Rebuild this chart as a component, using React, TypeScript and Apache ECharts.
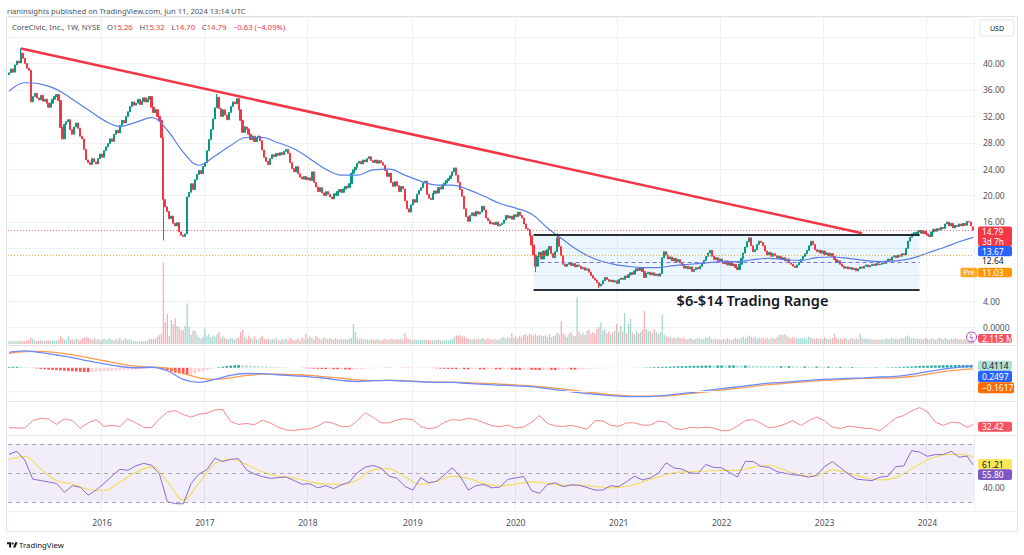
import React, { useEffect, useRef } from "react";
import * as echarts from "echarts";

// ---------- DATA ----------
const START_DATE = "2015-02-09"; // first weekly bar
const FIRST_OPEN = 38.3;
const LAST_OPEN = 15.26;

// weekly closes
const closes = [
  38.6, 39.2, 38.7, 39.8, 40.4, 40.1, 41.6, 40.8, 40.0, 39.3,
  39.0, 34.2, 35.0, 35.5, 34.8, 34.5, 35.2, 34.3, 34.6, 34.0,
  33.4, 34.0, 34.6, 35.0, 35.3, 34.4, 30.3, 28.6, 30.8, 31.2,
  31.5, 30.0, 29.3, 30.4, 31.0, 30.2, 29.0, 28.6, 27.0, 25.4,
  25.0, 24.7, 25.6, 25.1, 24.8, 25.6, 26.3, 25.8, 26.8, 27.4,
  27.9, 28.6, 28.2, 29.3, 29.9, 29.5, 30.6, 31.4, 31.0, 32.0,
  32.7, 33.5, 34.2, 33.7, 34.0, 34.6, 33.8, 34.3, 34.8, 34.2,
  34.6, 35.0, 33.4, 32.6, 33.0, 32.0, 31.4, 28.8, 19.4, 18.3,
  17.6, 16.5, 16.9, 15.8, 15.4, 15.9, 14.5, 14.0, 13.8, 14.2,
  19.8, 20.5, 21.8, 20.9, 22.4, 23.2, 23.8, 23.3, 24.4, 25.0,
  26.8, 28.5, 30.0, 31.6, 33.3, 34.9, 33.2, 32.0, 33.0, 32.2,
  31.5, 32.6, 33.5, 34.2, 33.9, 34.7, 33.0, 31.4, 29.6, 30.4,
  30.1, 29.3, 28.5, 29.0, 28.2, 28.8, 29.0, 28.3, 26.9, 25.8,
  25.2, 24.7, 25.6, 26.2, 25.9, 26.4, 26.1, 26.5, 26.2, 26.7,
  27.0, 26.4, 25.0, 24.1, 23.6, 24.4, 23.3, 22.8, 22.5, 22.9,
  22.4, 22.7, 22.3, 23.6, 22.0, 21.3, 20.6, 21.2, 20.4, 20.0,
  20.6, 20.2, 19.8, 19.5, 20.3, 20.0, 20.6, 20.9, 20.5, 21.0,
  21.4, 21.2, 21.8, 23.4, 23.9, 24.3, 24.9, 25.2, 24.8, 25.4,
  25.1, 25.6, 25.9, 25.3, 25.0, 25.4, 24.9, 25.3, 25.0, 24.6,
  23.8, 22.9, 23.4, 22.0, 21.4, 22.1, 21.5, 20.6, 21.4, 21.0,
  19.2, 18.0, 17.5, 18.6, 19.4, 19.0, 20.2, 20.8, 21.2, 21.9,
  22.2, 20.2, 19.6, 19.4, 20.3, 20.7, 20.4, 21.2, 21.0, 21.6,
  21.9, 22.3, 22.6, 23.0, 23.6, 24.2, 23.1, 22.0, 20.9, 19.9,
  18.0, 16.8, 16.1, 17.0, 17.4, 16.9, 17.6, 17.2, 17.5, 18.4,
  17.8, 16.6, 16.2, 15.7, 15.9, 15.6, 16.0, 15.4, 15.6, 15.8,
  16.3, 17.0, 16.6, 16.9, 16.4, 17.1, 16.8, 17.5, 17.0, 16.6,
  15.7, 15.0, 14.8, 13.9, 12.5, 11.0, 9.3, 10.8, 11.4, 10.4,
  11.6, 10.9, 11.8, 12.3, 11.2, 10.6, 11.5, 13.6, 12.3, 10.9,
  9.6, 9.3, 9.6, 9.8, 9.4, 9.7, 9.2, 9.5, 9.3, 8.9,
  9.1, 8.7, 8.9, 8.4, 7.9, 7.5, 7.2, 6.8, 6.3, 6.6,
  7.1, 7.6, 7.3, 7.0, 7.2, 6.9, 7.1, 6.7, 7.3, 7.5,
  7.3, 7.8, 7.6, 8.0, 8.3, 8.1, 8.6, 8.9, 8.7, 9.1,
  8.5, 7.6, 8.2, 8.4, 8.0, 8.3, 7.9, 8.1, 7.8, 8.2,
  10.6, 11.5, 11.0, 10.4, 10.7, 10.1, 10.5, 10.0, 10.3, 9.8,
  9.4, 9.0, 9.3, 8.9, 9.2, 8.5, 8.8, 9.1, 8.9, 9.3,
  9.7, 10.2, 10.8, 11.3, 11.7, 10.8, 10.3, 10.6, 10.1, 10.4,
  10.0, 9.7, 10.1, 9.5, 9.8, 9.4, 9.6, 9.1, 8.8, 9.6,
  10.5, 11.3, 12.2, 13.0, 13.6, 12.4, 11.5, 11.8, 12.6, 13.1,
  12.9, 12.4, 11.6, 11.0, 11.4, 10.8, 11.2, 10.9, 10.5, 10.8,
  10.3, 10.6, 10.1, 10.4, 9.8, 9.6, 9.3, 9.1, 9.5, 9.9,
  10.3, 10.8, 11.2, 11.7, 12.4, 13.1, 12.6, 11.8, 11.5, 11.7,
  11.3, 11.6, 11.1, 11.3, 10.9, 11.2, 10.8, 10.3, 9.9, 10.1,
  9.6, 9.3, 9.0, 9.2, 8.9, 9.1, 8.8, 9.0, 8.6, 8.9,
  9.2, 9.0, 9.3, 9.5, 9.2, 9.4, 9.6, 9.4, 9.7, 9.5,
  9.6, 9.8, 9.7, 10.1, 10.4, 10.2, 10.7, 10.9, 10.6, 11.0,
  10.8, 11.2, 11.0, 12.0, 13.1, 13.7, 14.2, 14.4, 14.1, 14.5,
  14.7, 14.3, 14.6, 14.2, 14.0, 13.8, 14.5, 14.9, 14.6, 15.0,
  14.8, 15.2, 15.0, 15.7, 16.0, 15.4, 15.8, 15.1, 15.5, 15.3,
  15.7, 15.4, 15.8, 15.5, 16.1, 16.0, 15.42, 14.79,
];

// notable wicks: [bar, value]
const wickHighs = [[6, 42.3], [105, 35.4], [277, 14.3], [487, 15.32]];
const wickLows = [[78, 13.2], [266, 8.4], [298, 6.0], [487, 14.7]];

// weekly volume (millions)
const volumes = [
  2.4, 2.2, 2.6, 2.0, 2.3, 2.8, 2.5, 2.1, 2.4, 2.9,
  3.1, 5.2, 4.6, 3.0, 2.6, 2.9, 3.3, 2.5, 2.7, 3.0,
  2.8, 2.5, 3.2, 2.7, 3.0, 3.4, 6.5, 4.8, 3.6, 3.1,
  6.4, 3.9, 4.0, 3.3, 4.5, 3.7, 3.2, 4.8, 5.6, 5.9,
  5.2, 4.4, 3.6, 4.9, 3.4, 4.2, 3.1, 3.8, 4.5, 3.3,
  3.9, 4.6, 3.5, 3.0, 4.1, 3.6, 5.0, 3.2, 3.7, 4.3,
  3.5, 4.0, 3.2, 2.6, 2.3, 2.5, 2.1, 2.4, 2.2, 2.6,
  2.9, 4.1, 4.3, 3.9, 4.6, 6.2, 7.4, 8.5, 68.0, 18.5,
  25.0, 6.5, 20.0, 16.5, 21.5, 15.0, 14.0, 11.5, 11.8, 15.0,
  34.0, 14.0, 7.5, 10.8, 11.0, 7.6, 5.8, 4.3, 6.0, 12.5,
  6.5, 8.2, 5.5, 7.0, 6.1, 8.0, 10.0, 5.2, 6.4, 4.8,
  4.2, 3.8, 5.0, 4.5, 3.6, 4.9, 5.2, 10.0, 11.5, 5.8,
  4.5, 7.2, 5.0, 3.8, 6.4, 4.1, 3.6, 5.5, 7.0, 4.2,
  3.5, 4.8, 3.2, 4.4, 3.8, 5.0, 3.3, 2.9, 4.1, 3.6,
  4.6, 3.4, 5.2, 4.0, 3.1, 3.7, 4.3, 3.0, 5.5, 4.1,
  8.3, 4.5, 6.2, 5.0, 4.0, 6.6, 5.2, 4.3, 3.8, 5.7,
  4.6, 3.9, 5.1, 4.2, 3.6, 4.8, 4.0, 3.5, 4.4, 3.7,
  4.1, 3.6, 4.5, 5.0, 16.5, 10.0, 4.8, 4.0, 4.6, 3.8,
  3.4, 3.9, 3.2, 4.2, 3.7, 3.1, 4.0, 3.5, 2.9, 3.8,
  4.1, 3.6, 3.3, 4.4, 3.9, 3.5, 4.2, 3.7, 4.6, 3.8,
  9.2, 5.1, 4.3, 3.6, 3.2, 3.9, 3.4, 3.0, 3.7, 3.3,
  3.8, 3.2, 3.5, 3.0, 2.8, 3.4, 3.1, 3.6, 2.9, 3.3,
  3.0, 3.5, 3.2, 3.8, 4.0, 5.8, 7.2, 6.8, 7.5, 6.0,
  6.5, 5.1, 4.5, 4.0, 3.6, 4.3, 3.8, 4.6, 3.9, 5.0,
  4.1, 3.5, 4.8, 3.9, 3.4, 4.2, 3.7, 3.3, 4.0, 5.2,
  5.8, 4.4, 6.0, 4.8, 9.2, 5.0, 6.3, 4.5, 7.0, 5.5,
  7.5, 8.2, 6.5, 9.0, 8.0, 7.2, 8.5, 6.8, 7.6, 6.2,
  6.8, 7.4, 6.0, 8.6, 5.5, 6.3, 7.0, 9.5, 8.0, 19.0,
  9.0, 7.2, 6.0, 8.5, 10.0, 7.0, 6.4, 39.0, 10.5, 8.0,
  9.5, 7.8, 11.0, 12.0, 8.5, 10.0, 9.0, 12.5, 14.0, 18.0,
  11.0, 12.5, 9.0, 10.5, 8.0, 9.5, 11.0, 16.7, 10.0, 15.0,
  10.5, 26.0, 9.0, 16.7, 21.0, 9.5, 8.0, 11.0, 9.0, 10.0,
  12.0, 27.5, 12.5, 10.5, 11.0, 9.0, 12.0, 10.0, 8.5, 9.5,
  24.0, 8.0, 6.5, 5.5, 6.0, 4.8, 5.2, 4.5, 5.8, 5.0,
  4.6, 5.5, 4.2, 3.8, 5.0, 4.4, 3.6, 4.1, 5.3, 4.0,
  4.5, 3.9, 5.6, 4.8, 6.5, 4.2, 3.7, 4.6, 3.5, 4.0,
  3.6, 4.3, 3.2, 4.9, 3.8, 3.3, 4.1, 5.2, 4.4, 3.9,
  5.0, 6.2, 4.6, 5.5, 7.0, 5.8, 4.9, 6.0, 4.4, 5.2,
  4.6, 5.0, 4.2, 5.4, 4.0, 4.7, 5.3, 4.5, 6.0, 7.5,
  8.0, 7.2, 8.3, 6.6, 5.5, 4.8, 5.8, 4.6, 5.2, 4.4,
  5.0, 4.5, 5.6, 4.2, 6.0, 5.3, 4.7, 4.0, 4.9, 4.3,
  4.8, 4.1, 5.5, 4.4, 3.9, 4.6, 5.2, 8.3, 5.0, 4.2,
  4.6, 3.8, 5.0, 4.3, 3.6, 4.4, 5.1, 3.9, 4.7, 4.0,
  8.3, 5.0, 4.1, 4.6, 3.7, 4.3, 3.5, 4.0, 3.4, 3.8,
  3.6, 4.2, 3.3, 4.8, 3.9, 4.4, 5.2, 3.8, 4.5, 4.1,
  4.0, 5.3, 4.6, 6.2, 7.0, 5.4, 4.5, 5.0, 4.2, 4.8,
  3.9, 4.4, 3.6, 5.0, 4.2, 3.7, 4.6, 4.0, 3.5, 4.3,
  5.2, 4.4, 3.8, 4.9, 4.1, 3.6, 4.5, 3.9, 4.7, 4.2,
  3.8, 4.5, 3.6, 4.1, 3.4, 4.0, 3.7, 2.115,
];

// moving average on price, one reading every 8 weeks
const MA_STEP = 8;
const maValues = [
  35.8, 37.1, 36.9, 36.1, 34.6, 33.0, 31.4, 30.5, 31.1, 31.8,
  29.9, 26.6, 24.6, 26.0, 27.6, 28.8, 28.8, 28.0, 27.1, 25.6,
  24.0, 23.1, 23.1, 23.9, 24.0, 23.1, 22.2, 21.6, 21.6, 20.9,
  19.9, 18.8, 18.1, 17.2, 15.1, 13.3, 11.6, 10.4, 9.7, 9.3,
  9.1, 9.1, 9.4, 9.6, 9.8, 10.0, 10.0, 10.3, 10.5, 10.3,
  10.2, 10.6, 10.7, 10.5, 10.2, 10.0, 10.1, 10.5, 11.3, 12.1,
  13.0, 13.67,
];

// MACD pane, one reading every 8 weeks
const MACD_STEP = 8;
const macdLine = [
  2.18, 2.4, 2.15, 1.82, 1.45, 0.97, 0.55, 0.18, 0.0, 0.07,
  -0.43, -1.66, -2.09, -1.65, -1.1, -0.82, -0.85, -1.0, -1.15, -1.3,
  -1.5, -1.8, -1.97, -1.85, -1.8, -1.9, -2.0, -2.09, -2.1, -2.23,
  -2.38, -2.47, -2.58, -2.7, -2.98, -3.25, -3.55, -3.78, -3.98, -4.1,
  -4.13, -4.02, -3.8, -3.55, -3.25, -2.98, -2.72, -2.45, -2.2, -2.05,
  -1.88, -1.72, -1.61, -1.52, -1.43, -1.32, -1.22, -0.95, -0.55, -0.2,
  0.1, 0.2497,
];
const signalLine = [
  2.05, 2.3, 2.35, 2.15, 1.85, 1.45, 1.0, 0.55, 0.22, 0.07,
  -0.05, -0.8, -1.43, -1.66, -1.45, -1.1, -0.92, -0.9, -1.0, -1.1,
  -1.3, -1.5, -1.75, -1.85, -1.8, -1.85, -1.98, -2.04, -2.05, -2.14,
  -2.23, -2.33, -2.45, -2.6, -2.82, -3.05, -3.32, -3.6, -3.85, -4.0,
  -4.05, -4.05, -3.92, -3.7, -3.45, -3.18, -2.92, -2.65, -2.42, -2.22,
  -2.05, -1.88, -1.76, -1.63, -1.52, -1.47, -1.43, -1.25, -0.9, -0.55,
  -0.3, -0.1617,
];
// histogram, one reading every 2 weeks
const HIST_STEP = 2;
const histValues = [
  0.1, 0.14, 0.16, 0.13, 0.09, 0.04, -0.05,
  -0.1, -0.16, -0.22, -0.27, -0.31, -0.35, -0.38, -0.42, -0.46, -0.5, -0.53, -0.57, -0.6, -0.63, -0.6, -0.55, -0.52,
  -0.48, -0.45, -0.42, -0.4, -0.37, -0.33, -0.3, -0.27, -0.24, -0.2, -0.17, -0.13, -0.1, -0.07, -0.05,
  -0.15, -0.35, -0.55, -0.7, -0.82, -0.92, -0.98, -0.9,
  -0.78, -0.62, -0.48, -0.33, -0.18, -0.05,
  0.08, 0.16, 0.24, 0.3, 0.35, 0.39, 0.37, 0.33,
  0.3, 0.27, 0.24, 0.2, 0.17, 0.14, 0.11, 0.09, 0.07, 0.05, 0.03, 0.02, 0.01,
  -0.03, -0.06, -0.09, -0.12, -0.15, -0.17, -0.19, -0.18, -0.2, -0.22, -0.21, -0.24, -0.26, -0.25, -0.22, -0.18, -0.14, -0.1, -0.06, -0.03, 0.01, 0.03,
  0.04, 0.03, 0.01, -0.02, -0.04, -0.05, -0.03, -0.01, 0.02, 0.01, -0.02, -0.05,
  -0.08, -0.12, -0.15, -0.17, -0.19, -0.21, -0.2, -0.22, -0.24, -0.23, -0.21, -0.22, -0.25, -0.24, -0.2, -0.21, -0.23, -0.22,
  -0.2, -0.24, -0.28, -0.3, -0.27, -0.25, -0.28, -0.31, -0.33, -0.3, -0.27, -0.29, -0.32, -0.3, -0.26, -0.22, -0.24, -0.27, -0.23, -0.19, -0.16, -0.14,
  -0.12, -0.1, -0.09, -0.07, -0.06, -0.05, -0.04, -0.03, -0.02, -0.01, 0.01, 0.02, 0.03,
  0.05, 0.07, 0.09, 0.11, 0.13, 0.15, 0.17, 0.18, 0.2, 0.22, 0.23, 0.25, 0.26, 0.28, 0.29, 0.3, 0.31, 0.3,
  0.31, 0.32, 0.3, 0.31, 0.33, 0.32, 0.3, 0.31, 0.29, 0.28, 0.27, 0.26, 0.25, 0.24, 0.23, 0.22,
  0.22, 0.21, 0.22, 0.2, 0.19, 0.18, 0.19, 0.17, 0.16, 0.17, 0.15, 0.14, 0.15, 0.13, 0.12, 0.13, 0.11, 0.1, 0.11, 0.09,
  0.08, 0.07, 0.06, 0.05, 0.06, 0.05, 0.04, 0.05, 0.06, 0.08, 0.1, 0.13, 0.16, 0.19,
  0.22, 0.25, 0.27, 0.29, 0.31, 0.33, 0.34, 0.36, 0.37, 0.38, 0.39, 0.4, 0.41, 0.41, 0.4114,
];

// third pane (red oscillator), one reading every 4 weeks
const OSC_STEP = 4;
const oscValues = [
  23, 22, 22, 45, 52, 50, 33, 50, 45, 21,
  38, 48, 27, 30, 26, 50, 38, 24, 23, 50,
  72, 76, 64, 56, 65, 68, 78, 80, 42, 33,
  36, 32, 46, 38, 24, 16, 14, 18, 19, 28,
  42, 36, 26, 26, 45, 70, 55, 38, 38, 47,
  51, 48, 27, 19, 24, 40, 48, 46, 52, 48,
  38, 29, 26, 31, 22, 25, 40, 61, 36, 28,
  27, 30, 25, 18, 45, 44, 30, 27, 38, 38,
  31, 31, 44, 40, 21, 17, 24, 22, 24, 22,
  13, 14, 28, 45, 48, 36, 22, 26, 34, 45,
  30, 45, 56, 44, 25, 20, 28, 25, 21, 20,
  13, 33, 53, 61, 75, 86, 72, 40, 30, 40,
  38, 24, 32.42,
];

// RSI, one reading every 4 weeks; its moving average every 8 weeks
const RSI_STEP = 4;
const rsiValues = [
  63, 65, 59, 46, 45, 44, 43, 37, 41.5, 40.4,
  35, 38.5, 43, 48, 52.7, 52, 55, 56.8, 55.5, 49.5,
  30.5, 29.2, 29, 43, 49.5, 52.5, 60.3, 58, 59.5, 60,
  52.3, 49.5, 47.7, 46.5, 47, 47.5, 45, 42.5, 42.8, 40,
  41.5, 39.5, 42, 44, 50.4, 54.2, 55.3, 53.5, 48, 46.6,
  41, 38.5, 47, 43.5, 44.5, 49, 53.8, 47.7, 38.5, 41.5,
  42.3, 40, 40.5, 45.8, 46.8, 47.8, 38, 36.3, 42.2, 43.5,
  40.8, 42, 41.8, 40.2, 38.5, 38.5, 41.5, 40.8, 44.2, 48,
  45.4, 46.8, 50, 57.2, 53.6, 52.8, 50.3, 49.8, 56, 54,
  53.8, 50.5, 47.5, 58.2, 58, 54.6, 54, 51.1, 50, 49,
  48.5, 47.3, 48.5, 54.5, 58, 53.8, 49.5, 46, 45.4, 45,
  47.3, 48, 54.5, 55, 65.5, 64.5, 61.6, 62.8, 62.8, 65,
  61, 61.8, 55.8,
];
const RSI_MA_STEP = 8;
const rsiMaValues = [
  59.5, 61.5, 53, 45, 42.6, 39, 38, 44, 50.5, 54.4,
  44.2, 31.7, 43.5, 56.5, 59.6, 56, 51, 48, 46.7, 44.2,
  42.5, 42.4, 45.3, 52.3, 53, 47.5, 42.5, 44.5, 48, 46.5,
  42.7, 41.3, 42.7, 44.1, 43, 41.7, 42, 41, 40, 41,
  44, 47.5, 50.3, 51.1, 51.5, 52, 52, 54, 55.5, 52,
  48.8, 48.2, 52.3, 50, 47, 45.4, 47, 53, 59, 62.5,
  63, 61.21,
];

// drawings on the price pane: [bar index, price]
const trendLine = [[6, 42.3], [431, 14.3]];
const rangeBox = { from: 265, to: 460, top: 14.1, bottom: 5.8 };
const LAST_PRICE = 14.79;
const PRE_PRICE = 11.03;
const priceTicks = [4, 16, 20, 24, 28, 32, 36, 40];

// ---------- BUILD ----------
const N = closes.length;
const WEEK = 7 * 86400000;
const startMs = Date.parse(START_DATE + "T00:00:00Z");
const dates = closes.map((_, i) => new Date(startMs + i * WEEK).toISOString().slice(0, 10));
const yearStart = dates.map((d, i) => i > 0 && d.slice(0, 4) !== dates[i - 1].slice(0, 4));

const UP = "#089981";
const DOWN = "#f23645";
const F = '"Noto Sans", sans-serif';

const hiMap = new Map(wickHighs.map((w) => [w[0], w[1]]));
const loMap = new Map(wickLows.map((w) => [w[0], w[1]]));
const ohlc = closes.map((c, i) => {
  const o = i === 0 ? FIRST_OPEN : i === N - 1 ? LAST_OPEN : closes[i - 1];
  const h = Math.max(o, c, hiMap.get(i) ?? -Infinity);
  const l = Math.min(o, c, loMap.get(i) ?? Infinity);
  return [o, c, l, h];
});

const volData = volumes.map((v, i) => ({
  value: v,
  itemStyle: { color: ohlc[i][1] >= ohlc[i][0] ? "rgba(8,153,129,0.38)" : "rgba(242,54,69,0.4)" },
}));

function spread(values: number[], step: number): any[] {
  const out: any[] = new Array(N).fill("-");
  values.forEach((v, i) => {
    out[Math.min(i * step, N - 1)] = v;
  });
  return out;
}

const histData: any[] = new Array(N).fill("-");
histValues.forEach((v, j) => {
  const p = j > 0 ? histValues[j - 1] : v;
  const color = v >= 0 ? (v >= p ? "#26a69a" : "#b2dfdb") : v <= p ? "#ff5252" : "#ffcdd2";
  histData[Math.min(j * HIST_STEP, N - 1)] = { value: v, itemStyle: { color } };
});

const L = 8;
const R = 50;
const grids = [
  { left: L, right: R, top: 17, height: 494 },
  { left: L, right: R, top: 17, height: 310.6 },
  { left: L, right: R, top: 248, height: 96 },
  { left: L, right: R, top: 347, height: 53 },
  { left: L, right: R, top: 403, height: 32 },
  { left: L, right: R, top: 435.3, height: 75.9 },
];

const GRID_LINE = "#eef0f4";
const xAxes = grids.map((_, gi) => ({
  type: "category",
  gridIndex: gi,
  data: dates,
  boundaryGap: true,
  axisLine: { show: false },
  axisTick: { show: false },
  axisLabel:
    gi === 0
      ? {
          show: true,
          interval: (i: number) => yearStart[i],
          formatter: (v: string) => v.slice(0, 4),
          color: "#50535e",
          fontSize: 8.5,
          fontFamily: F,
          margin: 7,
        }
      : { show: false },
  splitLine:
    gi === 0
      ? { show: true, interval: (i: number) => yearStart[i], lineStyle: { color: GRID_LINE, width: 1 } }
      : { show: false },
}));

const labelStyle = { color: "#50535e", fontSize: 8.5, fontFamily: F, margin: 9 };
const yAxes: any[] = [
  { type: "value", gridIndex: 0, show: false, min: 0, max: 1 },
  {
    type: "value",
    gridIndex: 1,
    position: "right",
    min: 0,
    max: 47.06,
    interval: 4,
    axisLine: { show: false },
    axisTick: { show: false },
    splitLine: { show: true, lineStyle: { color: GRID_LINE } },
    axisLabel: {
      ...labelStyle,
      formatter: (v: number) => (v === 0 ? "0.0000" : priceTicks.includes(v) ? v.toFixed(2) : ""),
    },
  },
  { type: "value", gridIndex: 2, show: false, min: 0, max: 80 },
  { type: "value", gridIndex: 3, show: false, min: -4.6, max: 2.96 },
  { type: "value", gridIndex: 4, show: false, min: 0, max: 100 },
  {
    type: "value",
    gridIndex: 5,
    position: "right",
    min: 24,
    max: 76,
    interval: 4,
    axisLine: { show: false },
    axisTick: { show: false },
    splitLine: { show: false },
    axisLabel: { ...labelStyle, formatter: (v: number) => (v === 40 ? "40.00" : "") },
  },
];

const series: any[] = [
  {
    type: "bar",
    xAxisIndex: 2,
    yAxisIndex: 2,
    data: volData,
    barWidth: 1.3,
    silent: true,
  },
  {
    type: "candlestick",
    xAxisIndex: 1,
    yAxisIndex: 1,
    data: ohlc,
    barWidth: 1.7,
    silent: true,
    itemStyle: { color: UP, color0: DOWN, borderColor: UP, borderColor0: DOWN, borderWidth: 1 },
    markArea: {
      silent: true,
      itemStyle: { color: "rgba(33,150,243,0.09)" },
      data: [
        [
          { coord: [dates[rangeBox.from], rangeBox.top] },
          { coord: [dates[rangeBox.to], rangeBox.bottom] },
        ],
      ],
    },
    markLine: {
      silent: true,
      symbol: "none",
      label: { show: false },
      data: [
        { yAxis: LAST_PRICE, lineStyle: { color: "#f23645", type: [1, 2], width: 1, opacity: 0.7 } },
        { yAxis: PRE_PRICE, lineStyle: { color: "#ff9800", type: [1, 2], width: 1, opacity: 0.8 } },
        [
          { coord: [dates[trendLine[0][0]], trendLine[0][1]], lineStyle: { color: "#f23645", width: 2.5, type: "solid" } },
          { coord: [dates[trendLine[1][0]], trendLine[1][1]] },
        ],
        [
          { coord: [dates[rangeBox.from], rangeBox.top], lineStyle: { color: "#2a2e39", width: 2, type: "solid" } },
          { coord: [dates[rangeBox.to], rangeBox.top] },
        ],
        [
          { coord: [dates[rangeBox.from], rangeBox.bottom], lineStyle: { color: "#2a2e39", width: 2, type: "solid" } },
          { coord: [dates[rangeBox.to], rangeBox.bottom] },
        ],
        [
          {
            coord: [dates[rangeBox.from], (rangeBox.top + rangeBox.bottom) / 2],
            lineStyle: { color: "#7e6fd8", width: 1, type: [4, 3] },
          },
          { coord: [dates[rangeBox.to], (rangeBox.top + rangeBox.bottom) / 2] },
        ],
      ],
    },
  },
  {
    type: "line",
    xAxisIndex: 1,
    yAxisIndex: 1,
    data: spread(maValues, MA_STEP),
    connectNulls: true,
    smooth: 0.4,
    showSymbol: false,
    silent: true,
    lineStyle: { color: "#5b7fe8", width: 1.2 },
  },
  {
    type: "bar",
    xAxisIndex: 3,
    yAxisIndex: 3,
    data: histData,
    barWidth: 2.6,
    silent: true,
  },
  {
    type: "line",
    xAxisIndex: 3,
    yAxisIndex: 3,
    data: spread(signalLine, MACD_STEP),
    connectNulls: true,
    smooth: 0.4,
    showSymbol: false,
    silent: true,
    lineStyle: { color: "#ff9a50", width: 1.3 },
  },
  {
    type: "line",
    xAxisIndex: 3,
    yAxisIndex: 3,
    data: spread(macdLine, MACD_STEP),
    connectNulls: true,
    smooth: 0.4,
    showSymbol: false,
    silent: true,
    lineStyle: { color: "#6b8cff", width: 1.3 },
  },
  {
    type: "line",
    xAxisIndex: 4,
    yAxisIndex: 4,
    data: spread(oscValues, OSC_STEP),
    connectNulls: true,
    showSymbol: false,
    silent: true,
    lineStyle: { color: "#f8868b", width: 1 },
  },
  {
    type: "line",
    xAxisIndex: 5,
    yAxisIndex: 5,
    data: spread(rsiMaValues, RSI_MA_STEP),
    connectNulls: true,
    smooth: 0.4,
    showSymbol: false,
    silent: true,
    lineStyle: { color: "#f3dc5c", width: 1.1 },
    markArea: {
      silent: true,
      itemStyle: { color: "rgba(126,87,194,0.1)" },
      data: [[{ yAxis: 30 }, { yAxis: 70 }]],
    },
    markLine: {
      silent: true,
      symbol: "none",
      label: { show: false },
      lineStyle: { color: "#9598a1", type: [4, 4], width: 1, opacity: 0.8 },
      data: [{ yAxis: 70 }, { yAxis: 50 }, { yAxis: 30 }],
    },
  },
  {
    type: "line",
    xAxisIndex: 5,
    yAxisIndex: 5,
    data: spread(rsiValues, RSI_STEP),
    connectNulls: true,
    showSymbol: false,
    silent: true,
    lineStyle: { color: "#8c6bd0", width: 1 },
  },
];

// ---------- GRAPHIC (chrome / labels) ----------
function txt(x: number, y: number, text: string, fill: string, size = 8.5, align = "left", weight = "normal"): any {
  return {
    type: "text",
    x,
    y,
    silent: true,
    z: 100,
    style: {
      text,
      fill,
      font: `${weight} ${size}px ${F}`,
      textAlign: align,
      textVerticalAlign: "middle",
      align,
      verticalAlign: "middle",
    },
  };
}
function box(y: number, h: number, fill: string, text: string, color: string, w = 34, x = 978): any[] {
  return [
    { type: "rect", silent: true, z: 99, shape: { x, y, width: w, height: h, r: 2 }, style: { fill } },
    txt(x + 4, y + h / 2, text, color),
  ];
}
function hline(y: number, x1: number, x2: number, color = "#e0e3eb"): any {
  return { type: "line", silent: true, z: 50, shape: { x1, y1: y, x2, y2: y }, style: { stroke: color, lineWidth: 1 } };
}

const TV_PATH = "M14 22H7V11H0V4h14v18z M28 22h-8l7.5-18h8L28 22z M19 5a3.5 3.5 0 1 1 0 7a3.5 3.5 0 1 1 0-7z";
echarts.graphic.registerShape("tvlogo", echarts.graphic.extendPath(TV_PATH, {}) as any);

const graphic: any[] = [
  {
    type: "rect",
    silent: true,
    z: 40,
    shape: { x: 6.5, y: 16.5, width: 1011, height: 515 },
    style: { fill: "none", stroke: "#e0e3eb", lineWidth: 1 },
  },
  hline(345.5, 6.5, 1017.5),
  hline(401.5, 6.5, 1017.5),
  hline(435.5, 6.5, 1017.5),
  hline(511.5, 6.5, 1017.5, "#eceef2"),
  hline(391.5, 6.5, 975, "#f2f3f6"),
  txt(7, 10.5, "rianinsights published on TradingView.com, Jun 11, 2024 13:14 UTC", "#50535e", 7.6),
  {
    type: "text",
    x: 12,
    y: 27,
    silent: true,
    z: 100,
    style: {
      text: "{d|CoreCivic, Inc., 1W, NYSE}  {d|O}{r|15.26}  {d|H}{r|15.32}  {d|L}{r|14.70}  {d|C}{r|14.79}  {r|\u22120.63 (\u22124.09%)}",
      textVerticalAlign: "middle",
      verticalAlign: "middle",
      rich: {
        d: { fill: "#4a4d57", font: `7.7px ${F}` },
        r: { fill: "#f23645", font: `7.7px ${F}` },
      },
    },
  },
  // USD box
  {
    type: "rect",
    silent: true,
    z: 99,
    shape: { x: 980, y: 20, width: 34, height: 16, r: 2 },
    style: { fill: "#fff", stroke: "#e0e3eb", lineWidth: 1 },
  },
  txt(997, 28, "USD", "#131722", 7, "center"),
  // last price
  { type: "rect", silent: true, z: 99, shape: { x: 978, y: 226.6, width: 34, height: 19.4, r: 2 }, style: { fill: "#f23645" } },
  txt(982, 231.6, "14.79", "#ffffff", 8.3),
  txt(982, 241.2, "3d 7h", "#ffffff", 8.3),
  ...box(246, 10.3, "#2962ff", "13.67", "#ffffff"),
  txt(982, 260.9, "12.64", "#131722"),
  { type: "rect", silent: true, z: 99, shape: { x: 960.5, y: 267.7, width: 17, height: 9.6, r: 1.5 }, style: { fill: "#ffa726" } },
  txt(969, 272.5, "Pre", "#ffffff", 7, "center"),
  ...box(267.7, 9.6, "#ff9800", "11.03", "#ffffff"),
  // volume
  ...box(334, 8.7, "#f7525f", "2.115 M", "#ffffff"),
  {
    type: "circle",
    silent: true,
    z: 99,
    shape: { cx: 971.5, cy: 337, r: 5 },
    style: { fill: "#ffffff", stroke: "#ab47bc", lineWidth: 1 },
  },
  txt(971.5, 337.3, "\u03df", "#ab47bc", 7, "center"),
  // MACD
  ...box(360.7, 10, "#b2dfdb", "0.4114", "#131722"),
  ...box(370.7, 11.6, "#2962ff", "0.2497", "#ffffff"),
  ...box(382.3, 11, "#ff6d00", "\u22120.1617", "#ffffff", 36),
  // oscillator
  ...box(421.7, 10, "#f7525f", "32.42", "#ffffff"),
  // RSI
  ...box(459, 10.3, "#f5e85a", "61.21", "#131722"),
  ...box(469.3, 10.7, "#7e57c2", "55.80", "#ffffff"),
  // annotation text
  txt(752.5, 299.5, "$6-$14 Trading Range", "#131722", 14.5, "center", "600"),
  // footer logo
  { type: "tvlogo", x: 7, y: 541, scaleX: 0.3, scaleY: 0.3, silent: true, style: { fill: "#131722" } },
  txt(19, 544.5, "TradingView", "#131722", 7.8),
];

const option: any = {
  animation: false,
  backgroundColor: "#ffffff",
  textStyle: { fontFamily: F },
  grid: grids,
  xAxis: xAxes,
  yAxis: yAxes,
  series,
  graphic,
};

export default function App() {
  const ref = useRef<HTMLDivElement>(null);
  useEffect(() => {
    const chart = echarts.init(ref.current as HTMLDivElement, undefined, { renderer: "svg" });
    chart.setOption(option);
    return () => chart.dispose();
  }, []);
  return <div ref={ref} style={{ position: "absolute", left: 0, top: 0, width: 1024, height: 555 }} />;
}
